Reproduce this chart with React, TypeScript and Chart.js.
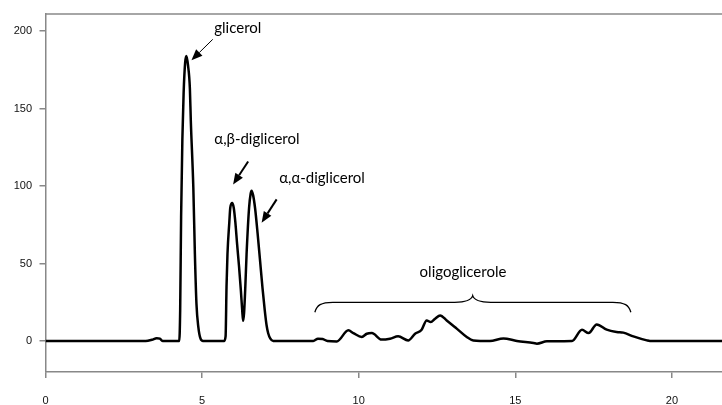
import { useEffect, useRef } from 'react';
import { Chart, registerables } from 'chart.js';
Chart.register(...registerables);

// retention time (min)
const times = [
  0, 3.2, 3.4, 3.55, 3.65, 3.75, 4.2,
  4.27, 4.3, 4.33, 4.37, 4.41, 4.46, 4.5, 4.55, 4.61, 4.64, 4.72, 4.77, 4.82, 4.88, 4.95, 5.03,
  5.7, 5.75, 5.78, 5.81, 5.87, 5.9, 5.96, 6.01, 6.06, 6.12, 6.18, 6.24, 6.28, 6.31, 6.34, 6.38, 6.42, 6.5, 6.55, 6.58, 6.63, 6.69, 6.77, 6.85, 6.93, 7.0, 7.06, 7.11, 7.18, 7.27,
  8.55, 8.7, 8.85, 9.0, 9.3,
  9.67, 9.83, 10.1, 10.26, 10.42, 10.73, 11.0, 11.26, 11.58, 11.8, 12.01, 12.17, 12.3, 12.44, 12.6, 12.81, 13.13, 13.45, 13.66,
  14.19, 14.62, 15.05, 15.58, 15.69, 16.01, 16.81,
  17.13, 17.34, 17.6, 17.92, 18.24, 18.45, 18.77, 19.2, 19.3, 21.6,
];
// detector signal
const signal = [
  0, 0, 0.8, 1.8, 1.5, 0, 0,
  0, 20, 80, 130, 160, 180, 184, 178, 163, 142, 99, 56, 24, 9, 1.5, 0,
  0, 3, 35, 56, 77, 86, 89, 86, 77, 62, 48, 32, 20, 13, 18, 35, 56, 86, 95, 97, 94, 86, 70, 52, 34, 20, 10, 5, 1.5, 0,
  0, 1.5, 1.3, 0, -0.3,
  6.9, 5.1, 2.6, 4.7, 5.1, 0.9, 1.5, 3, 0.4, 4.7, 7.3, 13.3, 12.2, 14.4, 16.5, 13.3, 8, 2.6, 0.4,
  0, 1.7, 0, -1.3, -1.7, -0.2, 0,
  7.3, 5.1, 10.7, 7.3, 5.8, 5.4, 3, 0.4, 0, 0,
];

const xTicks = [0, 5, 10, 15, 20];
const yTicks = [0, 50, 100, 150, 200];

// annotation texts (data coordinates of text centre)
const labelTexts = ['glicerol', 'α,β-diglicerol', 'α,α-diglicerol', 'oligoglicerole'];
const labelX = [6.14, 6.75, 8.83, 13.33];
const labelY = [202, 130.4, 105, 44.4];

// arrows: from (x1,y1) to tip (x2,y2), data coordinates
const arrowFromX = [5.34, 6.47, 7.38];
const arrowFromY = [194.7, 115.9, 91.4];
const arrowToX = [4.66, 5.99, 6.9];
const arrowToY = [181.2, 101, 76.4];
const arrowShaft = [1, 2, 2];

// brace over oligoglycerols
const braceX = [8.6, 13.64, 18.69];
const braceEndY = 18.6;
const braceBarY = 25;
const bracePeakY = 29.3;

function drawArrow(ctx: CanvasRenderingContext2D, x1: number, y1: number, x2: number, y2: number, w: number) {
  const ang = Math.atan2(y2 - y1, x2 - x1);
  const hl = 11, hw = 4.5;
  const bx = x2 - hl * Math.cos(ang), by = y2 - hl * Math.sin(ang);
  ctx.save();
  ctx.strokeStyle = '#000';
  ctx.fillStyle = '#000';
  ctx.lineWidth = w;
  ctx.beginPath();
  ctx.moveTo(x1, y1);
  ctx.lineTo(bx, by);
  ctx.stroke();
  ctx.beginPath();
  ctx.moveTo(x2, y2);
  ctx.lineTo(bx + hw * Math.sin(ang), by - hw * Math.cos(ang));
  ctx.lineTo(bx - hw * Math.sin(ang), by + hw * Math.cos(ang));
  ctx.closePath();
  ctx.fill();
  ctx.restore();
}

const annotationPlugin = {
  id: 'annot',
  afterDatasetsDraw(chart: any) {
    const { ctx, chartArea, scales } = chart;
    const xs = scales.x, ys = scales.y;
    ctx.save();
    // top border
    ctx.strokeStyle = '#888';
    ctx.lineWidth = 1.5;
    ctx.beginPath();
    ctx.moveTo(chartArea.left, chartArea.top);
    ctx.lineTo(chartArea.right, chartArea.top);
    ctx.stroke();

    ctx.fillStyle = '#000';
    ctx.font = '15px Lato, "Open Sans", sans-serif';
    ctx.textAlign = 'center';
    ctx.textBaseline = 'middle';
    labelTexts.forEach((t, i) => {
      ctx.fillText(t, xs.getPixelForValue(labelX[i]), ys.getPixelForValue(labelY[i]));
    });
    arrowFromX.forEach((_, i) => {
      drawArrow(ctx,
        xs.getPixelForValue(arrowFromX[i]), ys.getPixelForValue(arrowFromY[i]),
        xs.getPixelForValue(arrowToX[i]), ys.getPixelForValue(arrowToY[i]), arrowShaft[i]);
    });
    // brace
    const x0 = xs.getPixelForValue(braceX[0]);
    const xm = xs.getPixelForValue(braceX[1]);
    const x1 = xs.getPixelForValue(braceX[2]);
    const ye = ys.getPixelForValue(braceEndY);
    const yb = ys.getPixelForValue(braceBarY);
    const yp = ys.getPixelForValue(bracePeakY);
    const r = 18;
    ctx.strokeStyle = '#000';
    ctx.lineWidth = 1.3;
    ctx.beginPath();
    ctx.moveTo(x0, ye);
    ctx.bezierCurveTo(x0 + 2, yb + 3, x0 + 6, yb, x0 + r, yb);
    ctx.lineTo(xm - r, yb);
    ctx.quadraticCurveTo(xm - 2, yb, xm, yp);
    ctx.quadraticCurveTo(xm + 2, yb, xm + r, yb);
    ctx.lineTo(x1 - r, yb);
    ctx.bezierCurveTo(x1 - 6, yb, x1 - 2, yb + 3, x1, ye);
    ctx.stroke();
    ctx.restore();
  },
};

export default function App() {
  const ref = useRef<HTMLCanvasElement>(null);
  useEffect(() => {
    document.body.style.margin = '0';
    const data = times.map((t, i) => ({ x: t, y: signal[i] }));
    const tickFont = { family: '"Liberation Sans", Arial, sans-serif', size: 11 };
    const chart = new Chart(ref.current!, {
      type: 'scatter',
      data: {
        datasets: [{
          data,
          showLine: true,
          borderColor: '#000',
          borderWidth: 2.5,
          pointRadius: 0,
          cubicInterpolationMode: 'monotone',
          fill: false,
        }],
      },
      options: {
        animation: false,
        responsive: true,
        maintainAspectRatio: false,
        layout: { padding: { top: 12, left: 0, right: 0, bottom: 0 } },
        plugins: { legend: { display: false }, tooltip: { enabled: false } },
        scales: {
          x: {
            type: 'linear',
            min: 0,
            max: 21.6,
            afterBuildTicks: (s: any) => { s.ticks = xTicks.map((v) => ({ value: v })); },
            afterFit: (s: any) => { s.height = 33; },
            ticks: { color: '#111', font: tickFont, padding: 16, maxRotation: 0 },
            grid: { drawOnChartArea: false, drawTicks: true, tickLength: 6, color: '#888', lineWidth: 1.5 },
            border: { display: true, color: '#888', width: 1.5 },
          },
          y: {
            type: 'linear',
            min: -20,
            max: 211,
            afterBuildTicks: (s: any) => { s.ticks = yTicks.map((v) => ({ value: v })); },
            afterFit: (s: any) => { s.width = 45.5; },
            ticks: { color: '#111', font: tickFont, padding: 7.5 },
            grid: { drawOnChartArea: false, drawTicks: true, tickLength: 6, color: '#888', lineWidth: 1.5 },
            border: { display: true, color: '#888', width: 1.5 },
          },
        },
      },
      plugins: [annotationPlugin],
    } as any);
    return () => chart.destroy();
  }, []);
  return (
    <div style={{ position: 'relative', width: 722, height: 405 }}>
      <canvas ref={ref} />
    </div>
  );
}
